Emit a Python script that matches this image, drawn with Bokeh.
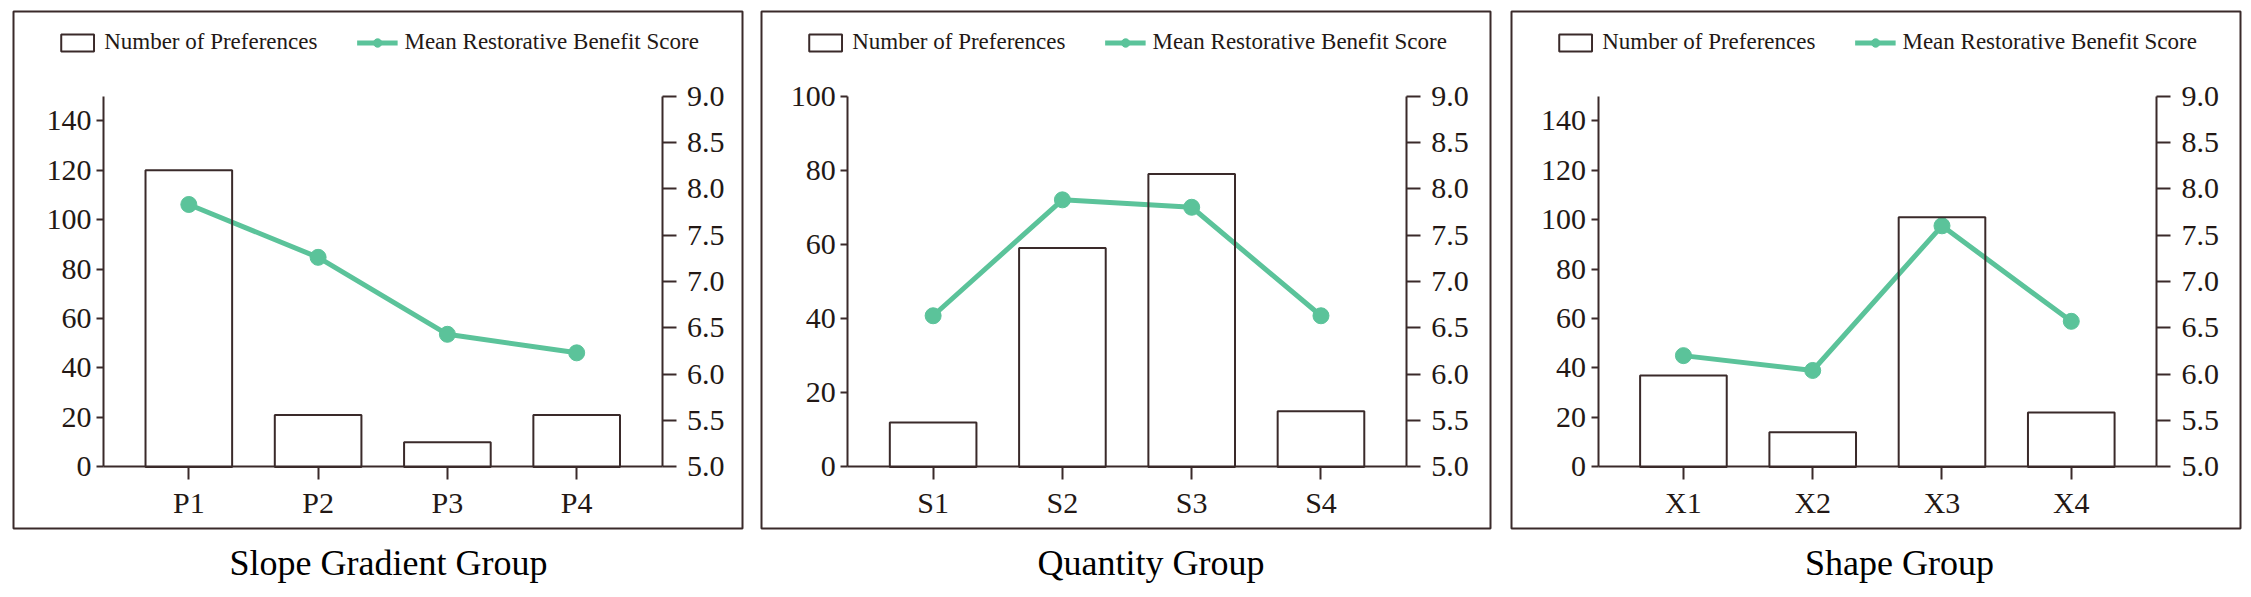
from bokeh.plotting import figure
from bokeh.models import (LinearAxis, Range1d, FixedTicker, NumeralTickFormatter,
                          Legend, LegendItem, Title, ColumnDataSource)
from bokeh.layouts import row
from bokeh.embed import file_html
from bokeh.resources import INLINE

# ---------------- data ----------------
group_titles = ["Slope Gradient Group", "Quantity Group", "Shape Group"]
slope_categories = ["P1", "P2", "P3", "P4"]
quantity_categories = ["S1", "S2", "S3", "S4"]
shape_categories = ["X1", "X2", "X3", "X4"]

slope_preferences = [120, 21, 10, 21]
quantity_preferences = [12, 59, 79, 15]
shape_preferences = [37, 14, 101, 22]

slope_scores = [7.83, 7.26, 6.43, 6.23]
quantity_scores = [6.63, 7.88, 7.80, 6.63]
shape_scores = [6.20, 6.04, 7.60, 6.57]

slope_left_ticks = [0, 20, 40, 60, 80, 100, 120, 140]
quantity_left_ticks = [0, 20, 40, 60, 80, 100]
shape_left_ticks = [0, 20, 40, 60, 80, 100, 120, 140]
left_axis_max = [150, 100, 150]
right_ticks = [5.0, 5.5, 6.0, 6.5, 7.0, 7.5, 8.0, 8.5, 9.0]
right_axis_min, right_axis_max = 5.0, 9.0

series_names = ["Number of Preferences", "Mean Restorative Benefit Score"]

# ---------------- styles / layout ----------------
FONT = "Liberation Serif"
DARK = "#3a2a2a"
TEXT = "#231815"
GREEN = "#5bc39a"

FRAME_W, FRAME_H = 729, 517
PAD_L = [90, 86.3, 86.6]        # frame left -> left axis (px)
AXIS_SPAN = 558.5               # left axis -> right axis (px)
CAT_PAD = 0.66                  # category units beyond first/last category
PAD_B = 61.6                    # frame bottom -> zero line (px)
PAD_T = 84.5                    # axis top -> frame top (px)
Y_SPAN = FRAME_H - PAD_B - PAD_T
MIN_L = [13, 5, 6]
MIN_R = [14, 15, 8]
MIN_TOP, MIN_BOTTOM = 11, 66
TITLE_OFFSET = [216, 276, 293.6]


def make_panel(i, cats, prefs, scores, lticks):
    n = len(cats)
    xs = list(range(n))
    unit = AXIS_SPAN / (n - 1 + 2 * CAT_PAD)
    x_left_axis = -CAT_PAD
    x_right_axis = n - 1 + CAT_PAD
    x0 = x_left_axis - PAD_L[i] / unit
    x1 = x0 + FRAME_W / unit

    ymax = left_axis_max[i]
    ppu = Y_SPAN / ymax
    y0, y1 = -PAD_B / ppu, ymax + PAD_T / ppu
    rppu = Y_SPAN / (right_axis_max - right_axis_min)
    r0, r1 = right_axis_min - PAD_B / rppu, right_axis_max + PAD_T / rppu

    p = figure(frame_width=FRAME_W, frame_height=FRAME_H,
               x_range=Range1d(x0, x1), y_range=Range1d(y0, y1),
               x_axis_location=None, y_axis_location=None,
               toolbar_location=None, output_backend="svg",
               min_border_left=MIN_L[i], min_border_right=MIN_R[i],
               min_border_top=MIN_TOP, min_border_bottom=MIN_BOTTOM,
               background_fill_color="white", border_fill_color="white",
               outline_line_color=DARK, outline_line_width=2)
    p.extra_y_ranges = {"score": Range1d(r0, r1)}
    p.grid.visible = False

    src = ColumnDataSource(dict(x=xs, cat=cats, n=prefs, s=scores))
    line = p.line("x", "s", source=src, y_range_name="score",
                  line_color=GREEN, line_width=5)
    pts = p.scatter("x", "s", source=src, y_range_name="score", size=16,
                    fill_color=GREEN, line_color=GREEN)
    bars = p.vbar(x="x", top="n", bottom=0, width=0.67, source=src,
                  fill_alpha=0, line_color=DARK, line_width=2)

    def style(ax, tick_out, standoff):
        ax.axis_line_color = DARK
        ax.axis_line_width = 2
        ax.major_tick_line_color = DARK
        ax.major_tick_line_width = 2
        ax.major_tick_in = 0
        ax.major_tick_out = tick_out
        ax.minor_tick_in = 0
        ax.minor_tick_out = 0
        ax.major_label_text_font = FONT
        ax.major_label_text_font_size = "30px"
        ax.major_label_text_color = TEXT
        ax.major_label_standoff = standoff

    yl = LinearAxis(fixed_location=x_left_axis, bounds=(0, ymax),
                    ticker=FixedTicker(ticks=lticks))
    style(yl, 7, 5)
    p.add_layout(yl, "left")

    yr = LinearAxis(y_range_name="score", fixed_location=x_right_axis,
                    bounds=(right_axis_min, right_axis_max),
                    ticker=FixedTicker(ticks=right_ticks),
                    formatter=NumeralTickFormatter(format="0.0"))
    style(yr, 14, 11)
    p.add_layout(yr, "right")

    xa = LinearAxis(fixed_location=0, bounds=(x_left_axis, x_right_axis),
                    ticker=FixedTicker(ticks=xs),
                    major_label_overrides={x: c for x, c in zip(xs, cats)})
    style(xa, 13, 6)
    p.add_layout(xa, "below")

    legend = Legend(items=[LegendItem(label=series_names[0], renderers=[bars]),
                           LegendItem(label=series_names[1], renderers=[line, pts])],
                    location="top_center", orientation="horizontal",
                    glyph_width=41, glyph_height=21, label_standoff=7,
                    spacing=39, margin=18, padding=5,
                    label_text_font=FONT, label_text_font_size="23px",
                    label_text_color=TEXT,
                    border_line_color=None, background_fill_alpha=0)
    p.add_layout(legend)

    t = Title(text=group_titles[i], align="left", offset=TITLE_OFFSET[i],
              text_font=FONT, text_font_size="36px", text_font_style="normal",
              text_color="black", standoff=24)
    p.add_layout(t, "below")
    return p


figs = [
    make_panel(0, slope_categories, slope_preferences, slope_scores, slope_left_ticks),
    make_panel(1, quantity_categories, quantity_preferences, quantity_scores, quantity_left_ticks),
    make_panel(2, shape_categories, shape_preferences, shape_scores, shape_left_ticks),
]

layout = row(*figs, spacing=0)
open("out.html", "w").write(file_html(layout, INLINE))
